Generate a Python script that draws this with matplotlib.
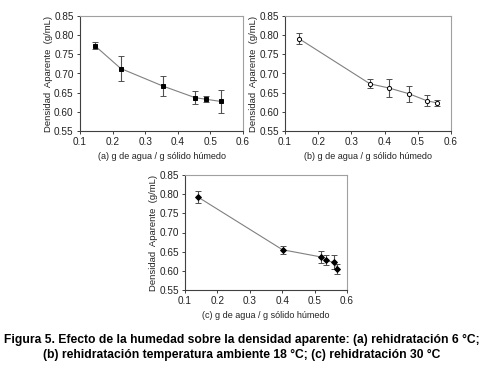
import matplotlib
matplotlib.use('Agg')
import matplotlib.pyplot as plt

plt.rcParams['font.family'] = ['Liberation Sans', 'DejaVu Sans']

# (a) rehidratacion 6 C
xa = [0.145, 0.225, 0.355, 0.453, 0.485, 0.533]
ya = [0.773, 0.713, 0.667, 0.637, 0.633, 0.627]
ea = [0.010, 0.033, 0.026, 0.017, 0.007, 0.030]

# (b) temperatura ambiente 18 C
xb = [0.142, 0.356, 0.414, 0.474, 0.527, 0.559]
yb = [0.791, 0.673, 0.662, 0.647, 0.629, 0.623]
eb = [0.014, 0.012, 0.023, 0.021, 0.014, 0.007]

# (c) rehidratacion 30 C
xc = [0.141, 0.401, 0.521, 0.535, 0.560, 0.570]
yc = [0.792, 0.655, 0.636, 0.627, 0.622, 0.606]
ec = [0.015, 0.010, 0.016, 0.013, 0.018, 0.013]

xticks = [0.1, 0.2, 0.3, 0.4, 0.5, 0.6]
yticks = [0.55, 0.60, 0.65, 0.70, 0.75, 0.80, 0.85]

W, H = 483, 375
fig = plt.figure(figsize=(W / 100, H / 100), dpi=100)


def panel(x0, x1, y0, y1, x, y, e, marker, mfc, ms, label):
    ax = fig.add_axes([x0 / W, 1 - y1 / H, (x1 - x0) / W, (y1 - y0) / H])
    ax.errorbar(x, y, yerr=e, color='#808080', lw=0.8, elinewidth=0.8,
                capsize=2, capthick=0.8, marker=marker, mfc=mfc, mec='black',
                ms=ms, mew=0.7, ecolor='#505050')
    ax.set_xlim(0.1, 0.6)
    ax.set_ylim(0.55, 0.85)
    ax.set_xticks(xticks)
    ax.set_xticklabels([f'{t:.1f}' for t in xticks])
    ax.set_yticks(yticks)
    ax.set_yticklabels([f'{t:.2f}' for t in yticks])
    for s in ax.spines.values():
        s.set_color('#a0a0a0')
        s.set_linewidth(0.8)
    ax.spines['left'].set_color('#404040')
    ax.spines['bottom'].set_color('#404040')
    ax.tick_params(labelsize=7.2, length=2.5, width=0.7, pad=2, colors='#404040',
                   labelcolor='#222222')
    ax.set_ylabel('Densidad  Aparente  (g/mL)', fontsize=6.8, labelpad=1,
                  color='#222222')
    ax.set_xlabel(label, fontsize=6.5, labelpad=3.5, color='#222222')
    return ax


panel(80, 243, 16, 131, xa, ya, ea, 's', 'black', 2.5, '(a) g de agua / g sólido húmedo')
panel(285, 451, 16, 131, xb, yb, eb, 'o', 'white', 3, '(b) g de agua / g sólido húmedo')
panel(185, 347, 175, 290, xc, yc, ec, 'D', 'black', 3, '(c) g de agua / g sólido húmedo')

fig.text(0.5, 1 - 340 / H,
         'Figura 5. Efecto de la humedad sobre la densidad aparente: (a) rehidratación 6 °C;',
         ha='center', va='center', fontsize=8.7, fontweight='bold')
fig.text(0.5, 1 - 355 / H,
         '(b) rehidratación temperatura ambiente 18 °C; (c) rehidratación 30 °C',
         ha='center', va='center', fontsize=8.7, fontweight='bold')

fig.savefig('out.png', dpi=100)
